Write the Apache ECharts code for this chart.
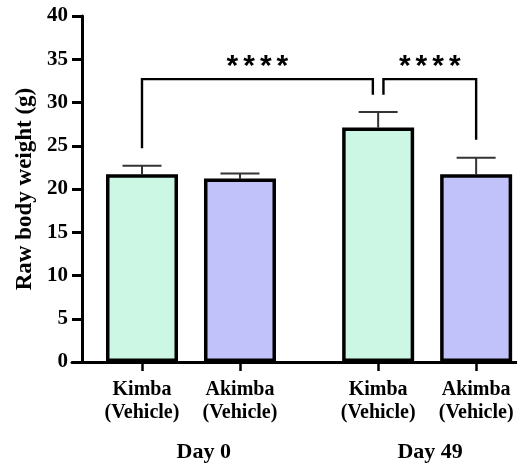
<!DOCTYPE html>
<html>
<head>
<meta charset="utf-8">
<script src="https://cdn.jsdelivr.net/npm/echarts@6/dist/echarts.min.js"></script>
<style>
  html, body { margin: 0; padding: 0; background: #ffffff; }
  #chart { width: 517px; height: 465px; }
</style>
</head>
<body>
<div id="chart"></div>
<script>
// Group labels, day labels and measured body weights (mean ± error)
const groupLabels = ['Kimba\n(Vehicle)', 'Akimba\n(Vehicle)', 'Kimba\n(Vehicle)', 'Akimba\n(Vehicle)'];
const dayLabels = ['Day 0', 'Day 49'];
const meanWeight = [21.7, 21.2, 27.1, 21.7];
const errorWeight = [1.0, 0.6, 1.8, 1.9];
const yTickValues = [0, 5, 10, 15, 20, 25, 30, 35, 40];

// Significance comparisons: from bar, to bar, bracket height, left foot, right foot, label
const comparisonFrom = [0, 2];
const comparisonTo = [2, 3];
const bracketTop = [32.7, 32.7];
const bracketLeftFoot = [24.7, 30.9];
const bracketRightFoot = [30.9, 25.7];
const comparisonLabel = ['****', '****'];

// Layout: horizontal slots of the bars (second day group set apart) and of the day labels
const barSlots = [1, 2, 3.41, 4.41];
const daySlots = [1.63, 3.94];
const xMin = 0.2857;
const xMax = 4.827;
const fills = ['#ccf7e5', '#c2c2fb'];
const serif = '"Liberation Serif", "Times New Roman", serif';

const chart = echarts.init(document.getElementById('chart'), null, { renderer: 'canvas' });

function slotIndex(v, slots) {
  return slots.findIndex(s => Math.abs(s - v) < 1e-6);
}

const option = {
  animation: false,
  backgroundColor: '#ffffff',
  grid: { left: 72, right: 0, top: 16, bottom: 103, containLabel: false },
  xAxis: [
    {
      type: 'value',
      min: xMin,
      max: xMax,
      position: 'bottom',
      axisLine: { show: true, onZero: false, lineStyle: { color: '#000', width: 3 } },
      axisTick: { show: true, customValues: barSlots, length: 9, lineStyle: { color: '#000', width: 2.5 } },
      axisLabel: {
        show: true,
        customValues: barSlots,
        margin: 16,
        formatter: v => groupLabels[slotIndex(v, barSlots)] || '',
        fontFamily: serif, fontWeight: 'bold', fontSize: 20, lineHeight: 23, color: '#000'
      },
      splitLine: { show: false }
    },
    {
      type: 'value',
      min: xMin,
      max: xMax,
      position: 'bottom',
      axisLine: { show: false },
      axisTick: { show: false },
      axisLabel: {
        show: true,
        customValues: daySlots,
        margin: 79,
        formatter: v => dayLabels[slotIndex(v, daySlots)] || '',
        fontFamily: serif, fontWeight: 'bold', fontSize: 22, color: '#000'
      },
      splitLine: { show: false }
    }
  ],
  yAxis: {
    type: 'value',
    min: 0,
    max: 40,
    interval: 5,
    offset: -10,
    name: 'Raw body weight (g)',
    nameLocation: 'middle',
    nameGap: 45,
    nameTextStyle: { fontFamily: serif, fontWeight: 'bold', fontSize: 23, color: '#000' },
    axisLine: { show: true, lineStyle: { color: '#000', width: 3 } },
    axisTick: { show: true, length: 10, customValues: yTickValues, lineStyle: { color: '#000', width: 3 } },
    axisLabel: {
      margin: 14,
      customValues: yTickValues,
      fontFamily: serif, fontWeight: 'bold', fontSize: 21, color: '#000'
    },
    splitLine: { show: false }
  },
  series: [
    {
      // error bars (drawn first so the bar outline sits on top of the stem)
      type: 'custom',
      xAxisIndex: 0,
      data: meanWeight.map((m, i) => [barSlots[i], m, m + errorWeight[i]]),
      renderItem: (params, api) => {
        const base = api.coord([api.value(0), api.value(1)]);
        const top = api.coord([api.value(0), api.value(2)]);
        const half = 19.5;
        const style = { stroke: '#333', lineWidth: 2 };
        return {
          type: 'group',
          children: [
            { type: 'line', shape: { x1: base[0], y1: base[1], x2: top[0], y2: top[1] }, style },
            { type: 'line', shape: { x1: top[0] - half, y1: top[1], x2: top[0] + half, y2: top[1] }, style }
          ]
        };
      },
      z: 1
    },
    {
      type: 'bar',
      xAxisIndex: 0,
      barWidth: 72,
      data: meanWeight.map((m, i) => ({
        value: [barSlots[i], m],
        itemStyle: { color: fills[i % 2] }
      })),
      itemStyle: { borderColor: '#000', borderWidth: 3.5 },
      z: 2
    },
    {
      // significance brackets with their star labels
      type: 'custom',
      xAxisIndex: 0,
      data: comparisonFrom.map((f, i) => [barSlots[f], barSlots[comparisonTo[i]], bracketTop[i], bracketLeftFoot[i], bracketRightFoot[i], i]),
      renderItem: (params, api) => {
        const i = api.value(5);
        const gap = 5.3;
        let xl = api.coord([api.value(0), 0])[0];
        let xr = api.coord([api.value(1), 0])[0];
        if (comparisonFrom[i] === 2) xl += gap;
        if (comparisonTo[i] === 2) xr -= gap;
        const yt = api.coord([0, api.value(2)])[1];
        const yl = api.coord([0, api.value(3)])[1];
        const yr = api.coord([0, api.value(4)])[1];
        const ys = api.coord([0, api.value(2) + 1.45])[1];
        return {
          type: 'group',
          children: [
            {
              type: 'polyline',
              shape: { points: [[xl, yl], [xl, yt], [xr, yt], [xr, yr]] },
              style: { stroke: '#000', lineWidth: 2.4, fill: null }
            },
            {
              type: 'text',
              x: (xl + xr) / 2,
              y: ys,
              style: {
                text: comparisonLabel[i].split('').map(c => '{s|' + c + '}').join(''),
                align: 'center',
                verticalAlign: 'middle',
                rich: {
                  s: {
                    fontFamily: '"Liberation Sans", Arial, sans-serif',
                    fontWeight: 'bold',
                    fontSize: 30,
                    padding: [0, 2.5],
                    fill: '#000'
                  }
                }
              }
            }
          ]
        };
      },
      z: 3
    }
  ]
};

chart.setOption(option);
</script>
</body>
</html>
